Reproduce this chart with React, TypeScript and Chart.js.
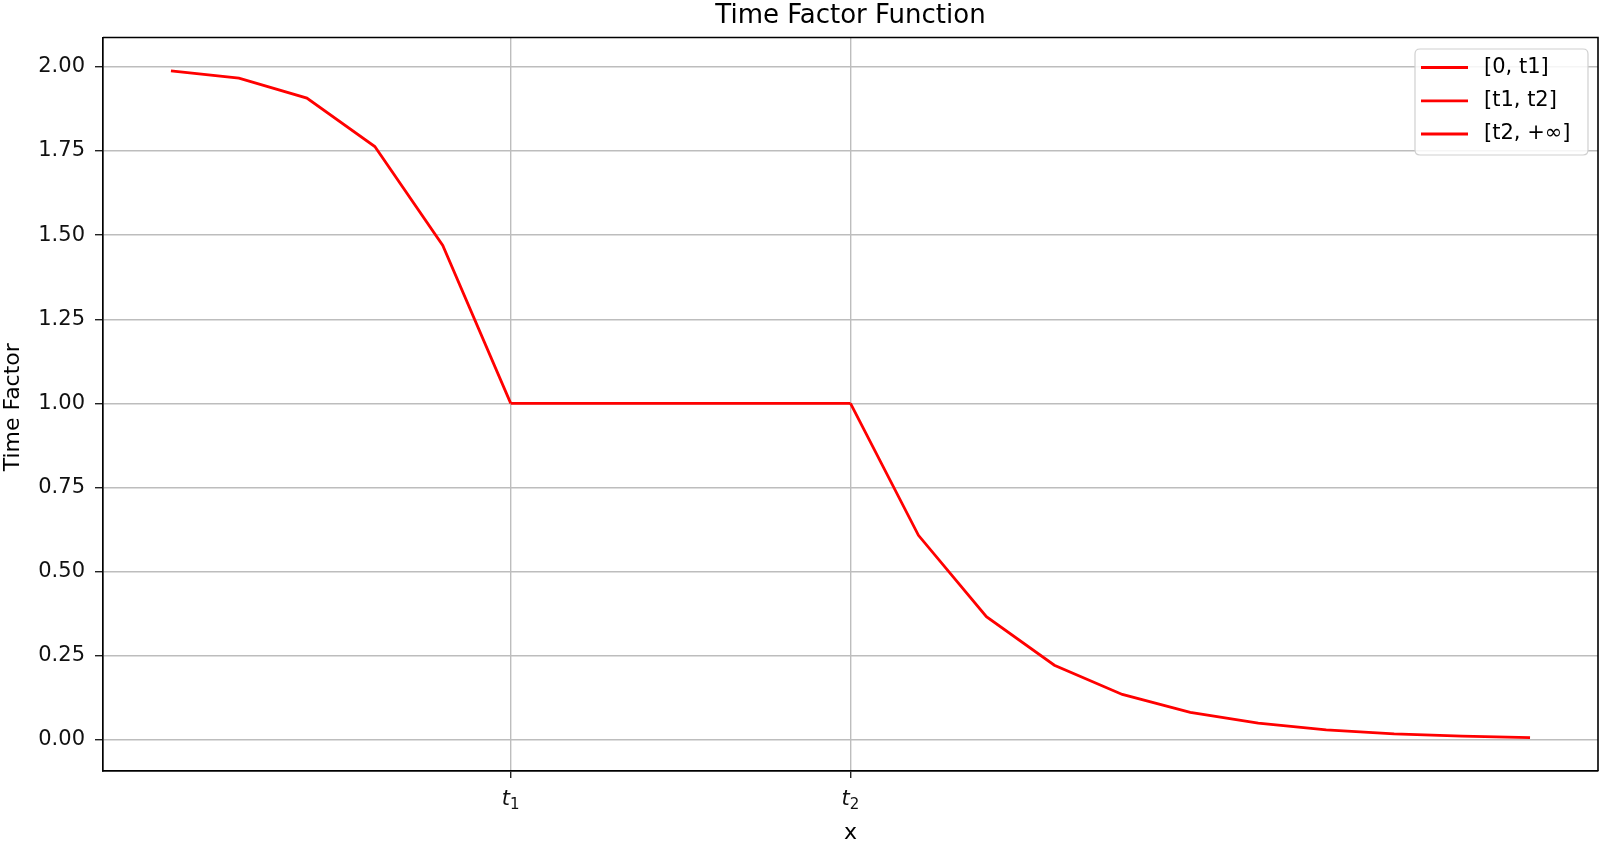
import React, { useEffect, useRef } from 'react';
import { Chart, registerables } from 'chart.js';

Chart.register(...registerables);

// ---- data ----
const seg1X = [0, 1, 2, 3, 4, 5];
const seg1Y = [1.988, 1.966, 1.907, 1.763, 1.469, 1.0];
const seg2X = [5, 6, 7, 8, 9, 10];
const seg2Y = [1.0, 1.0, 1.0, 1.0, 1.0, 1.0];
const seg3X = [10, 11, 12, 13, 14, 15, 16, 17, 18, 19, 20];
const seg3Y = [1.0, 0.608, 0.366, 0.222, 0.135, 0.082, 0.05, 0.03, 0.018, 0.011, 0.007];
const seriesLabels = ['[0, t1]', '[t1, t2]', '[t2, +\u221e]'];
const xTickValues = [5, 10];
const xTickMain = ['t', 't'];
const xTickSub = ['1', '2'];
const yTickValues = [0, 0.25, 0.5, 0.75, 1.0, 1.25, 1.5, 1.75, 2.0];
const titleText = 'Time Factor Function';
const xTitle = 'x';
const yTitle = 'Time Factor';

const FONT = "'DejaVu Sans', 'Noto Sans', sans-serif";
const LINE_COLOR = '#ff0000';

function pts(xs: number[], ys: number[]) {
  return xs.map((x, i) => ({ x, y: ys[i] }));
}

const decorPlugin = {
  id: 'decor',
  afterDraw(chart: any) {
    const ctx = chart.ctx as CanvasRenderingContext2D;
    const { left, right, top, bottom } = chart.chartArea;
    ctx.save();
    // top & right spines
    ctx.strokeStyle = '#000';
    ctx.lineWidth = 1.6;
    ctx.beginPath();
    ctx.moveTo(left, top);
    ctx.lineTo(right, top);
    ctx.lineTo(right, bottom);
    ctx.stroke();

    // title
    ctx.fillStyle = '#000';
    ctx.font = `26px ${FONT}`;
    ctx.textAlign = 'center';
    ctx.textBaseline = 'alphabetic';
    ctx.fillText(titleText, (left + right) / 2, 23);

    // x axis title
    ctx.font = `22px ${FONT}`;
    ctx.fillText(xTitle, (left + right) / 2, 839);

    // y axis title
    ctx.save();
    ctx.translate(19, (top + bottom) / 2 + 3);
    ctx.rotate(-Math.PI / 2);
    ctx.font = `22px ${FONT}`;
    ctx.textAlign = 'center';
    ctx.fillText(yTitle, 0, 0);
    ctx.restore();

    // x tick labels (mathtext-like t with subscript)
    const xs = chart.scales.x;
    xTickValues.forEach((v, i) => {
      const px = xs.getPixelForValue(v);
      ctx.font = `italic 21px ${FONT}`;
      const w1 = ctx.measureText(xTickMain[i]).width;
      ctx.font = `15px ${FONT}`;
      const w2 = ctx.measureText(xTickSub[i]).width;
      const start = px - (w1 + w2) / 2;
      ctx.textAlign = 'left';
      ctx.font = `italic 21px ${FONT}`;
      ctx.fillStyle = '#111';
      ctx.fillText(xTickMain[i], start, 805);
      ctx.font = `15px ${FONT}`;
      ctx.fillText(xTickSub[i], start + w1, 809);
    });

    // legend
    const bx = 1415, by = 49, bw = 173, bh = 106, r = 5;
    ctx.fillStyle = 'rgba(255,255,255,0.85)';
    ctx.strokeStyle = '#d0d0d0';
    ctx.lineWidth = 1.2;
    ctx.beginPath();
    ctx.moveTo(bx + r, by);
    ctx.lineTo(bx + bw - r, by);
    ctx.quadraticCurveTo(bx + bw, by, bx + bw, by + r);
    ctx.lineTo(bx + bw, by + bh - r);
    ctx.quadraticCurveTo(bx + bw, by + bh, bx + bw - r, by + bh);
    ctx.lineTo(bx + r, by + bh);
    ctx.quadraticCurveTo(bx, by + bh, bx, by + bh - r);
    ctx.lineTo(bx, by + r);
    ctx.quadraticCurveTo(bx, by, bx + r, by);
    ctx.closePath();
    ctx.fill();
    ctx.stroke();
    const rowsY = [67.5, 100.8, 134];
    chart.data.datasets.forEach((ds: any, i: number) => {
      const y = rowsY[i];
      ctx.strokeStyle = ds.borderColor;
      ctx.lineWidth = 2.8;
      ctx.beginPath();
      ctx.moveTo(1421, y);
      ctx.lineTo(1468, y);
      ctx.stroke();
      ctx.fillStyle = '#000';
      ctx.font = `21px ${FONT}`;
      ctx.textAlign = 'left';
      ctx.textBaseline = 'middle';
      ctx.fillText(ds.label, 1484, y);
    });
    ctx.restore();
  },
};

export default function App() {
  const ref = useRef<HTMLCanvasElement | null>(null);
  useEffect(() => {
    if (!ref.current) return;
    const mk = (label: string, xs: number[], ys: number[]) => ({
      label,
      data: pts(xs, ys),
      borderColor: LINE_COLOR,
      backgroundColor: LINE_COLOR,
      borderWidth: 2.8,
      pointRadius: 0,
      tension: 0,
      fill: false,
    });
    const chart = new Chart(ref.current, {
      type: 'line',
      data: {
        datasets: [
          mk(seriesLabels[0], seg1X, seg1Y),
          mk(seriesLabels[1], seg2X, seg2Y),
          mk(seriesLabels[2], seg3X, seg3Y),
        ],
      },
      plugins: [decorPlugin],
      options: {
        animation: false,
        responsive: false,
        maintainAspectRatio: false,
        layout: { padding: { top: 37.5, right: 6, left: 0, bottom: 0 } },
        plugins: {
          legend: { display: false },
          title: { display: false },
          tooltip: { enabled: false },
        },
        scales: {
          x: {
            type: 'linear',
            min: -1,
            max: 21,
            afterFit: (s: any) => {
              s.height = 72;
            },
            afterBuildTicks: (s: any) => {
              s.ticks = xTickValues.map((v) => ({ value: v }));
            },
            ticks: { display: false },
            grid: {
              color: '#bdbdbd',
              lineWidth: 1.4,
              drawTicks: true,
              tickLength: 7,
              tickColor: '#222',
              tickWidth: 1.4,
            },
            border: { display: true, color: '#000', width: 1.7 },
          },
          y: {
            type: 'linear',
            min: -0.0924,
            max: 2.087,
            afterFit: (s: any) => {
              s.width = 103;
            },
            afterBuildTicks: (s: any) => {
              s.ticks = yTickValues.map((v) => ({ value: v }));
            },
            ticks: {
              padding: 10,
              color: '#111',
              font: { family: FONT, size: 21 },
              callback: (v: any) => Number(v).toFixed(2),
            },
            grid: {
              color: '#bdbdbd',
              lineWidth: 1.4,
              drawTicks: true,
              tickLength: 8,
              tickColor: '#222',
              tickWidth: 1.4,
            },
            border: { display: true, color: '#000', width: 1.7 },
          },
        },
      } as any,
    });
    return () => chart.destroy();
  }, []);
  return (
    <div style={{ position: 'fixed', left: 0, top: 0, width: 1604, height: 843, background: '#fff' }}>
      <canvas ref={ref} width={1604} height={843} style={{ display: 'block', width: 1604, height: 843 }} />
    </div>
  );
}
